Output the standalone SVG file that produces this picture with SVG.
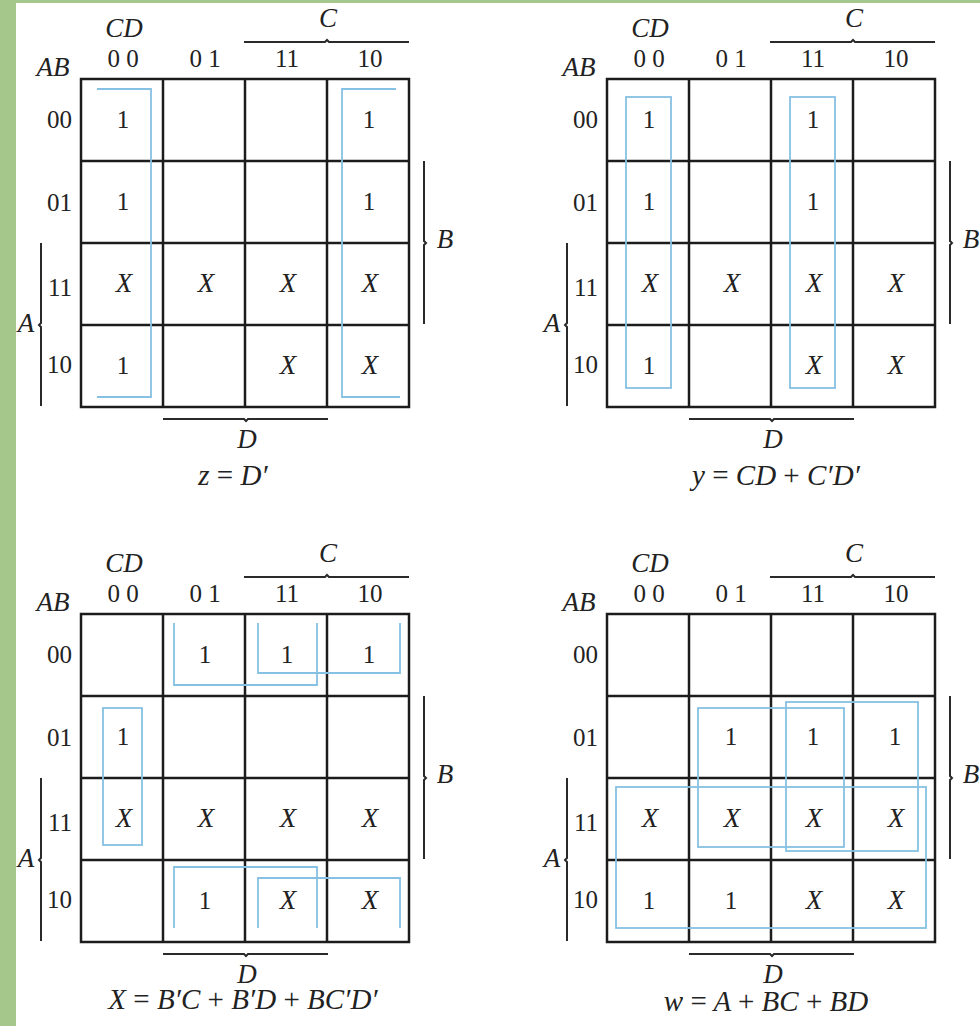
<svg xmlns="http://www.w3.org/2000/svg" xmlns:xlink="http://www.w3.org/1999/xlink" width="980" height="1026" viewBox="0 0 980 1026">
<style>
.grid{fill:none;stroke:#1c1c1c;stroke-width:2.5}
.bar{fill:none;stroke:#2a2a2a;stroke-width:2}
.loop{fill:none;stroke:#86c1e3;stroke-width:1.8}
.num{font-family:"Liberation Serif",serif;font-size:25px;fill:#222;text-anchor:middle}
.it{font-family:"Liberation Serif",serif;font-style:italic;font-size:27px;fill:#222;text-anchor:middle}
.rl{font-family:"Liberation Serif",serif;font-size:25px;fill:#222;text-anchor:end}
.eq{font-family:"Liberation Serif",serif;font-style:italic;font-size:29px;fill:#222;text-anchor:middle}
.op{font-style:normal}
</style>
<defs>
<g id="frame">
<rect x="81" y="79" width="328" height="328" class="grid"/>
<path class="grid" d="M163,79V407M245,79V407M327,79V407M81,161H409M81,243H409M81,325H409"/>
<path class="bar" d="M244,42H325l2,-2l2,2H409M424,161V241l2,2l-2,2V324M41,243V323l-2,2l2,2V406M163,419H244l2,2l2,-2H328"/>
<text class="it" x="124" y="37">CD</text>
<text class="it" x="328" y="27">C</text>
<text class="it" x="445" y="248">B</text>
<text class="it" x="26" y="332">A</text>
<text class="it" x="247" y="448">D</text>
<text class="it" x="53" y="76">AB</text>
<text class="num" x="123" y="67">0 0</text>
<text class="num" x="205" y="67">0 1</text>
<text class="num" x="287" y="67">11</text>
<text class="num" x="370" y="67">10</text>
<text class="rl" x="72" y="128">00</text>
<text class="rl" x="72" y="211">01</text>
<text class="rl" x="72" y="296">11</text>
<text class="rl" x="72" y="373">10</text>
</g>
</defs>
<rect x="0" y="0" width="980" height="1026" fill="#a6c78c"/>
<rect x="16" y="3" width="964" height="1023" fill="#ffffff"/>

<g id="map-z">
<use xlink:href="#frame"/>
<path class="loop" d="M97,89H151V397H97"/>
<path class="loop" d="M396,89H342V397H400"/>
<text class="num" x="123" y="128">1</text><text class="num" x="369" y="128">1</text>
<text class="num" x="123" y="210">1</text><text class="num" x="369" y="210">1</text>
<text class="it" x="124" y="292">X</text><text class="it" x="206" y="292">X</text><text class="it" x="288" y="292">X</text><text class="it" x="370" y="292">X</text>
<text class="num" x="123" y="374">1</text><text class="it" x="288" y="374">X</text><text class="it" x="370" y="374">X</text>
<text class="eq" x="233" y="485">z <tspan class="op">=</tspan> D′</text>
</g>

<g id="map-y" transform="translate(526,0)">
<use xlink:href="#frame"/>
<rect class="loop" x="100" y="97" width="45" height="291"/>
<rect class="loop" x="264" y="97" width="45" height="291"/>
<text class="num" x="123" y="128">1</text><text class="num" x="287" y="128">1</text>
<text class="num" x="123" y="210">1</text><text class="num" x="287" y="210">1</text>
<text class="it" x="124" y="292">X</text><text class="it" x="206" y="292">X</text><text class="it" x="288" y="292">X</text><text class="it" x="370" y="292">X</text>
<text class="num" x="123" y="374">1</text><text class="it" x="288" y="374">X</text><text class="it" x="370" y="374">X</text>
<text class="eq" x="250" y="485">y <tspan class="op">=</tspan> CD <tspan class="op">+</tspan> C′D′</text>
</g>

<g id="map-x" transform="translate(0,535)">
<use xlink:href="#frame"/>
<path class="loop" d="M174,88V150H317V88"/>
<path class="loop" d="M258,88V138H400V88"/>
<path class="loop" d="M174,393V332H317V393"/>
<path class="loop" d="M258,393V343H400V393"/>
<rect class="loop" x="103" y="173" width="39" height="137"/>
<text class="num" x="205" y="128">1</text><text class="num" x="287" y="128">1</text><text class="num" x="369" y="128">1</text>
<text class="num" x="123" y="210">1</text>
<text class="it" x="124" y="292">X</text><text class="it" x="206" y="292">X</text><text class="it" x="288" y="292">X</text><text class="it" x="370" y="292">X</text>
<text class="num" x="205" y="374">1</text><text class="it" x="288" y="374">X</text><text class="it" x="370" y="374">X</text>
<text class="eq" x="243" y="474">X <tspan class="op">=</tspan> B′C <tspan class="op">+</tspan> B′D <tspan class="op">+</tspan> BC′D′</text>
</g>

<g id="map-w" transform="translate(526,535)">
<use xlink:href="#frame"/>
<rect class="loop" x="172" y="173" width="146" height="139"/>
<rect class="loop" x="260" y="167" width="132" height="149"/>
<rect class="loop" x="90" y="252" width="310" height="141"/>
<text class="num" x="205" y="210">1</text><text class="num" x="287" y="210">1</text><text class="num" x="369" y="210">1</text>
<text class="it" x="124" y="292">X</text><text class="it" x="206" y="292">X</text><text class="it" x="288" y="292">X</text><text class="it" x="370" y="292">X</text>
<text class="num" x="123" y="374">1</text><text class="num" x="205" y="374">1</text><text class="it" x="288" y="374">X</text><text class="it" x="370" y="374">X</text>
<text class="eq" x="240" y="476">w <tspan class="op">=</tspan> A <tspan class="op">+</tspan> BC <tspan class="op">+</tspan> BD</text>
</g>
</svg>
